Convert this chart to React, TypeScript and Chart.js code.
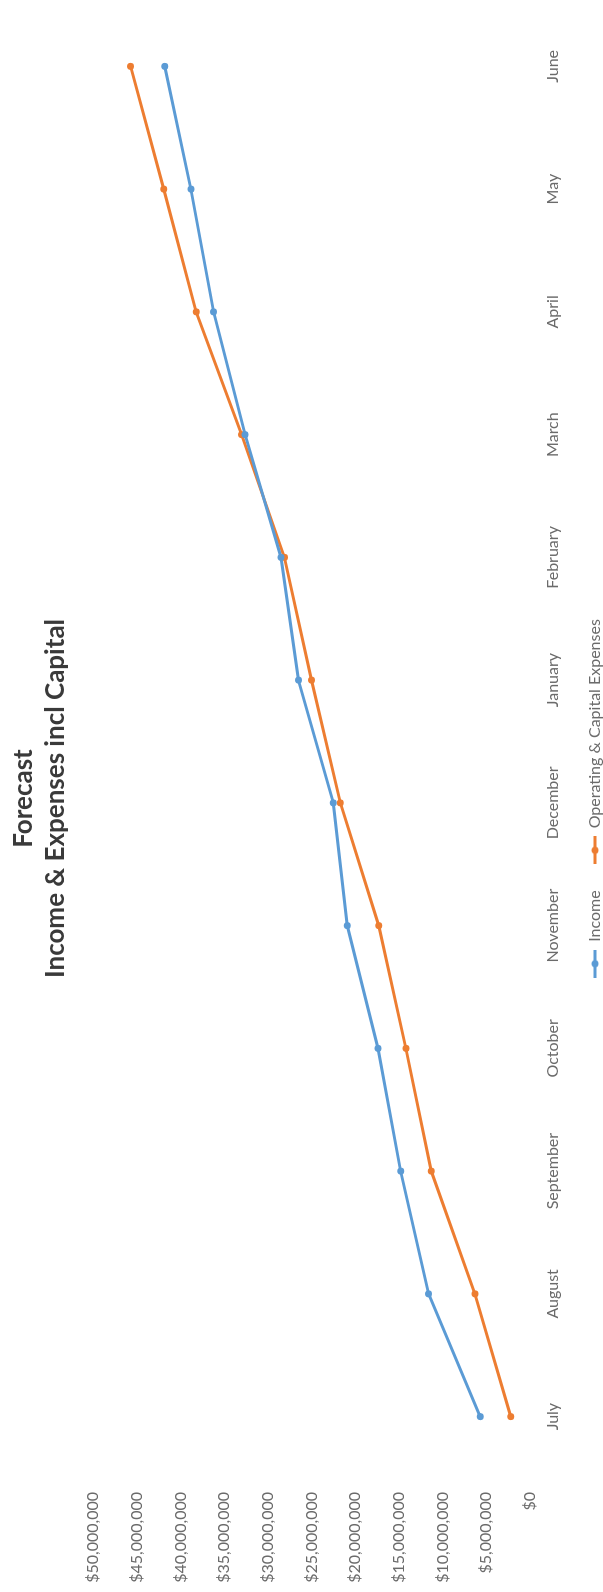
import React, { useEffect, useRef } from "react";
import { Chart, registerables } from "chart.js";

Chart.register(...registerables);

// Fiscal-year months, July through June
const months = [
  "July", "August", "September", "October", "November", "December",
  "January", "February", "March", "April", "May", "June",
];

// Cumulative forecast, in dollars
const income = [
  5700000, 11600000, 14800000, 17400000, 20900000, 22500000,
  26500000, 28500000, 32600000, 36200000, 38800000, 41800000,
];
const expenses = [
  2200000, 6300000, 11300000, 14200000, 17300000, 21700000,
  25000000, 28100000, 33000000, 38200000, 41900000, 45700000,
];

const yMin = 0;
const yMax = 50000000;
const yStep = 5000000;

const titleLines = ["Forecast", "Income & Expenses incl Capital"];
const seriesNames = ["Income", "Operating & Capital Expenses"];

const BLUE = "#5B9BD5";
const ORANGE = "#ED7D31";
const FONT = "Lato, 'Open Sans', sans-serif";
const TICK_COLOR = "#6b6b6b";

// Line-with-marker swatch used as the legend symbol
function makeSwatch(color: string): HTMLCanvasElement {
  const c = document.createElement("canvas");
  c.width = 28;
  c.height = 10;
  const g = c.getContext("2d")!;
  g.strokeStyle = color;
  g.lineWidth = 3;
  g.beginPath();
  g.moveTo(0, 5);
  g.lineTo(28, 5);
  g.stroke();
  g.fillStyle = color;
  g.beginPath();
  g.arc(14, 5, 3.5, 0, Math.PI * 2);
  g.fill();
  return c;
}

// The chart is laid out landscape and turned a quarter-turn on the page
const W = 1592;
const H = 613;

export default function App() {
  const ref = useRef<HTMLCanvasElement | null>(null);

  useEffect(() => {
    if (!ref.current) return;
    const swatches = [makeSwatch(BLUE), makeSwatch(ORANGE)];
    const chart = new Chart(ref.current, {
      type: "line",
      data: {
        labels: months,
        datasets: [
          {
            label: seriesNames[0],
            data: income,
            borderColor: BLUE,
            backgroundColor: BLUE,
            borderWidth: 3,
            pointRadius: 3.5,
            pointBorderWidth: 0,
            pointBackgroundColor: BLUE,
            tension: 0,
          },
          {
            label: seriesNames[1],
            data: expenses,
            borderColor: ORANGE,
            backgroundColor: ORANGE,
            borderWidth: 3,
            pointRadius: 3.5,
            pointBorderWidth: 0,
            pointBackgroundColor: ORANGE,
            tension: 0,
          },
        ],
      },
      options: {
        responsive: false,
        animation: false,
        devicePixelRatio: 1,
        layout: { padding: { left: 0, right: 5, top: 0, bottom: 0 } },
        plugins: {
          tooltip: { enabled: false },
          title: {
            display: true,
            text: titleLines,
            color: "#3a3a3a",
            font: { family: FONT, size: 26, weight: "bold", lineHeight: 32 / 26 },
            padding: { top: 8, bottom: 21 },
          },
          legend: {
            display: true,
            position: "bottom",
            labels: {
              usePointStyle: true,
              pointStyleWidth: 28,
              boxHeight: 10,
              padding: 26,
              color: TICK_COLOR,
              font: { family: FONT, size: 16 },
              generateLabels: (ch: any) => {
                const items = Chart.defaults.plugins.legend.labels.generateLabels(ch);
                items.forEach((it: any, i: number) => {
                  it.pointStyle = swatches[i];
                });
                return items;
              },
            },
          },
        },
        scales: {
          x: {
            type: "category",
            offset: true,
            grid: { display: false, drawTicks: false },
            border: { display: false },
            ticks: {
              color: TICK_COLOR,
              font: { family: FONT, size: 16 },
              padding: 13,
              maxRotation: 0,
              autoSkip: false,
            },
            afterFit: (s: any) => {
              s.height = 31;
            },
          },
          y: {
            min: yMin,
            max: yMax,
            grid: { display: false, drawTicks: false },
            border: { display: false },
            ticks: {
              stepSize: yStep,
              color: TICK_COLOR,
              font: { family: FONT, size: 16 },
              padding: 14,
              callback: (v: any) => "$" + Number(v).toLocaleString("en-US"),
            },
            afterFit: (s: any) => {
              s.width = 114;
            },
          },
        },
      },
    });
    return () => chart.destroy();
  }, []);

  return (
    <div
      style={{
        position: "fixed",
        left: 0,
        top: 0,
        width: 603,
        height: 1592,
        overflow: "hidden",
        background: "#fff",
      }}
    >
      <div
        style={{
          position: "absolute",
          left: 0,
          top: 0,
          width: W,
          height: H,
          transformOrigin: "0 0",
          transform: `translateY(${W}px) rotate(-90deg)`,
        }}
      >
        <canvas ref={ref} width={W} height={H} style={{ width: W, height: H, display: "block" }} />
      </div>
    </div>
  );
}
